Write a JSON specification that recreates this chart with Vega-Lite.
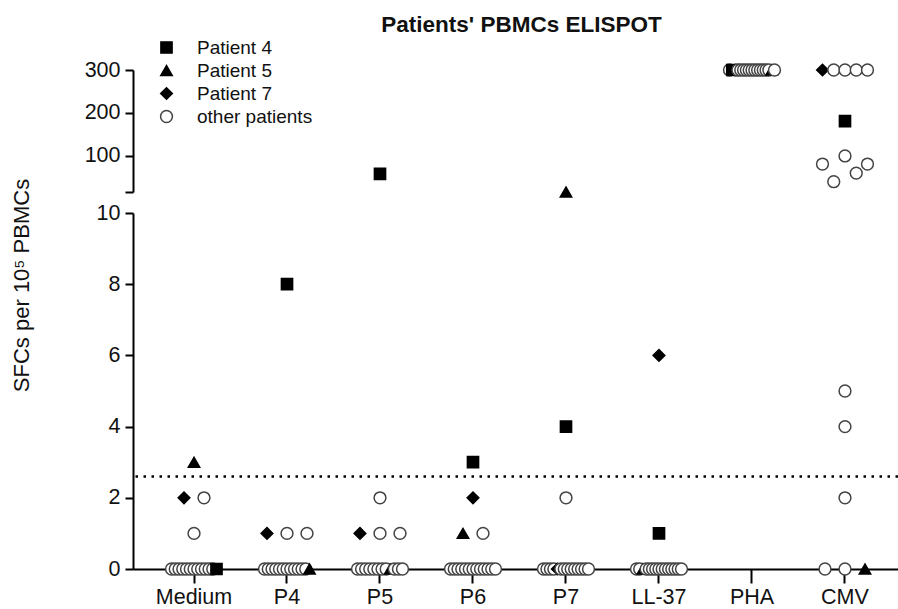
{
  "$schema": "https://vega.github.io/schema/vega-lite/v6.json",
  "autosize": "none",
  "width": 765,
  "height": 499,
  "padding": {"left": 133, "top": 70, "right": 0, "bottom": 40},
  "background": "white",
  "config": {
    "font": "Liberation Sans",
    "view": {"stroke": null},
    "axis": {"domainColor": "black", "tickColor": "black", "labelColor": "#111111", "titleColor": "#111111", "grid": false, "domainWidth": 2, "tickWidth": 2}
  },
  "title": {"text": "Patients' PBMCs ELISPOT", "fontSize": 22.5, "fontWeight": "bold", "color": "#111111", "frame": "group", "anchor": "middle", "dx": 6, "offset": 2},
  "data": {"values": [
    {"stimulus": "Medium", "patient": "other patients", "sfc": 0},
    {"stimulus": "Medium", "patient": "other patients", "sfc": 0},
    {"stimulus": "Medium", "patient": "other patients", "sfc": 0},
    {"stimulus": "Medium", "patient": "other patients", "sfc": 0},
    {"stimulus": "Medium", "patient": "other patients", "sfc": 0},
    {"stimulus": "Medium", "patient": "other patients", "sfc": 0},
    {"stimulus": "Medium", "patient": "other patients", "sfc": 0},
    {"stimulus": "Medium", "patient": "other patients", "sfc": 0},
    {"stimulus": "Medium", "patient": "other patients", "sfc": 0},
    {"stimulus": "Medium", "patient": "other patients", "sfc": 0},
    {"stimulus": "Medium", "patient": "other patients", "sfc": 0},
    {"stimulus": "Medium", "patient": "other patients", "sfc": 0},
    {"stimulus": "Medium", "patient": "Patient 4", "sfc": 0},
    {"stimulus": "Medium", "patient": "Patient 7", "sfc": 2},
    {"stimulus": "Medium", "patient": "other patients", "sfc": 2},
    {"stimulus": "Medium", "patient": "other patients", "sfc": 1},
    {"stimulus": "Medium", "patient": "Patient 5", "sfc": 3},

    {"stimulus": "P4", "patient": "other patients", "sfc": 0},
    {"stimulus": "P4", "patient": "other patients", "sfc": 0},
    {"stimulus": "P4", "patient": "other patients", "sfc": 0},
    {"stimulus": "P4", "patient": "other patients", "sfc": 0},
    {"stimulus": "P4", "patient": "other patients", "sfc": 0},
    {"stimulus": "P4", "patient": "other patients", "sfc": 0},
    {"stimulus": "P4", "patient": "other patients", "sfc": 0},
    {"stimulus": "P4", "patient": "other patients", "sfc": 0},
    {"stimulus": "P4", "patient": "other patients", "sfc": 0},
    {"stimulus": "P4", "patient": "other patients", "sfc": 0},
    {"stimulus": "P4", "patient": "other patients", "sfc": 0},
    {"stimulus": "P4", "patient": "other patients", "sfc": 0},
    {"stimulus": "P4", "patient": "Patient 5", "sfc": 0},
    {"stimulus": "P4", "patient": "Patient 7", "sfc": 1},
    {"stimulus": "P4", "patient": "other patients", "sfc": 1},
    {"stimulus": "P4", "patient": "other patients", "sfc": 1},
    {"stimulus": "P4", "patient": "Patient 4", "sfc": 8},

    {"stimulus": "P5", "patient": "other patients", "sfc": 0},
    {"stimulus": "P5", "patient": "other patients", "sfc": 0},
    {"stimulus": "P5", "patient": "other patients", "sfc": 0},
    {"stimulus": "P5", "patient": "other patients", "sfc": 0},
    {"stimulus": "P5", "patient": "other patients", "sfc": 0},
    {"stimulus": "P5", "patient": "other patients", "sfc": 0},
    {"stimulus": "P5", "patient": "other patients", "sfc": 0},
    {"stimulus": "P5", "patient": "other patients", "sfc": 0},
    {"stimulus": "P5", "patient": "Patient 5", "sfc": 0},
    {"stimulus": "P5", "patient": "other patients", "sfc": 0},
    {"stimulus": "P5", "patient": "other patients", "sfc": 0},
    {"stimulus": "P5", "patient": "other patients", "sfc": 0},
    {"stimulus": "P5", "patient": "Patient 7", "sfc": 1},
    {"stimulus": "P5", "patient": "other patients", "sfc": 1},
    {"stimulus": "P5", "patient": "other patients", "sfc": 1},
    {"stimulus": "P5", "patient": "other patients", "sfc": 2},
    {"stimulus": "P5", "patient": "Patient 4", "sfc": 58},

    {"stimulus": "P6", "patient": "other patients", "sfc": 0},
    {"stimulus": "P6", "patient": "other patients", "sfc": 0},
    {"stimulus": "P6", "patient": "other patients", "sfc": 0},
    {"stimulus": "P6", "patient": "other patients", "sfc": 0},
    {"stimulus": "P6", "patient": "other patients", "sfc": 0},
    {"stimulus": "P6", "patient": "other patients", "sfc": 0},
    {"stimulus": "P6", "patient": "other patients", "sfc": 0},
    {"stimulus": "P6", "patient": "other patients", "sfc": 0},
    {"stimulus": "P6", "patient": "other patients", "sfc": 0},
    {"stimulus": "P6", "patient": "other patients", "sfc": 0},
    {"stimulus": "P6", "patient": "other patients", "sfc": 0},
    {"stimulus": "P6", "patient": "other patients", "sfc": 0},
    {"stimulus": "P6", "patient": "other patients", "sfc": 0},
    {"stimulus": "P6", "patient": "Patient 5", "sfc": 1},
    {"stimulus": "P6", "patient": "other patients", "sfc": 1},
    {"stimulus": "P6", "patient": "Patient 7", "sfc": 2},
    {"stimulus": "P6", "patient": "Patient 4", "sfc": 3},

    {"stimulus": "P7", "patient": "other patients", "sfc": 0},
    {"stimulus": "P7", "patient": "other patients", "sfc": 0},
    {"stimulus": "P7", "patient": "other patients", "sfc": 0},
    {"stimulus": "P7", "patient": "other patients", "sfc": 0},
    {"stimulus": "P7", "patient": "Patient 7", "sfc": 0},
    {"stimulus": "P7", "patient": "other patients", "sfc": 0},
    {"stimulus": "P7", "patient": "other patients", "sfc": 0},
    {"stimulus": "P7", "patient": "other patients", "sfc": 0},
    {"stimulus": "P7", "patient": "other patients", "sfc": 0},
    {"stimulus": "P7", "patient": "other patients", "sfc": 0},
    {"stimulus": "P7", "patient": "other patients", "sfc": 0},
    {"stimulus": "P7", "patient": "other patients", "sfc": 0},
    {"stimulus": "P7", "patient": "other patients", "sfc": 0},
    {"stimulus": "P7", "patient": "other patients", "sfc": 0},
    {"stimulus": "P7", "patient": "other patients", "sfc": 2},
    {"stimulus": "P7", "patient": "Patient 4", "sfc": 4},
    {"stimulus": "P7", "patient": "Patient 5", "sfc": 16},

    {"stimulus": "LL-37", "patient": "other patients", "sfc": 0},
    {"stimulus": "LL-37", "patient": "other patients", "sfc": 0},
    {"stimulus": "LL-37", "patient": "Patient 5", "sfc": 0},
    {"stimulus": "LL-37", "patient": "other patients", "sfc": 0},
    {"stimulus": "LL-37", "patient": "other patients", "sfc": 0},
    {"stimulus": "LL-37", "patient": "other patients", "sfc": 0},
    {"stimulus": "LL-37", "patient": "other patients", "sfc": 0},
    {"stimulus": "LL-37", "patient": "other patients", "sfc": 0},
    {"stimulus": "LL-37", "patient": "other patients", "sfc": 0},
    {"stimulus": "LL-37", "patient": "other patients", "sfc": 0},
    {"stimulus": "LL-37", "patient": "other patients", "sfc": 0},
    {"stimulus": "LL-37", "patient": "other patients", "sfc": 0},
    {"stimulus": "LL-37", "patient": "other patients", "sfc": 0},
    {"stimulus": "LL-37", "patient": "other patients", "sfc": 0},
    {"stimulus": "LL-37", "patient": "other patients", "sfc": 0},
    {"stimulus": "LL-37", "patient": "Patient 4", "sfc": 1},
    {"stimulus": "LL-37", "patient": "Patient 7", "sfc": 6},

    {"stimulus": "PHA", "patient": "other patients", "sfc": 300},
    {"stimulus": "PHA", "patient": "Patient 4", "sfc": 300},
    {"stimulus": "PHA", "patient": "Patient 7", "sfc": 300},
    {"stimulus": "PHA", "patient": "other patients", "sfc": 300},
    {"stimulus": "PHA", "patient": "other patients", "sfc": 300},
    {"stimulus": "PHA", "patient": "other patients", "sfc": 300},
    {"stimulus": "PHA", "patient": "other patients", "sfc": 300},
    {"stimulus": "PHA", "patient": "other patients", "sfc": 300},
    {"stimulus": "PHA", "patient": "other patients", "sfc": 300},
    {"stimulus": "PHA", "patient": "other patients", "sfc": 300},
    {"stimulus": "PHA", "patient": "other patients", "sfc": 300},
    {"stimulus": "PHA", "patient": "other patients", "sfc": 300},
    {"stimulus": "PHA", "patient": "other patients", "sfc": 300},
    {"stimulus": "PHA", "patient": "other patients", "sfc": 300},
    {"stimulus": "PHA", "patient": "other patients", "sfc": 300},
    {"stimulus": "PHA", "patient": "Patient 5", "sfc": 300},
    {"stimulus": "PHA", "patient": "other patients", "sfc": 300},

    {"stimulus": "CMV", "patient": "other patients", "sfc": 0},
    {"stimulus": "CMV", "patient": "other patients", "sfc": 0},
    {"stimulus": "CMV", "patient": "Patient 5", "sfc": 0},
    {"stimulus": "CMV", "patient": "other patients", "sfc": 2},
    {"stimulus": "CMV", "patient": "other patients", "sfc": 4},
    {"stimulus": "CMV", "patient": "other patients", "sfc": 5},
    {"stimulus": "CMV", "patient": "other patients", "sfc": 81},
    {"stimulus": "CMV", "patient": "other patients", "sfc": 40},
    {"stimulus": "CMV", "patient": "other patients", "sfc": 100},
    {"stimulus": "CMV", "patient": "other patients", "sfc": 60},
    {"stimulus": "CMV", "patient": "other patients", "sfc": 81},
    {"stimulus": "CMV", "patient": "Patient 4", "sfc": 181},
    {"stimulus": "CMV", "patient": "Patient 7", "sfc": 300},
    {"stimulus": "CMV", "patient": "other patients", "sfc": 300},
    {"stimulus": "CMV", "patient": "other patients", "sfc": 300},
    {"stimulus": "CMV", "patient": "other patients", "sfc": 300},
    {"stimulus": "CMV", "patient": "other patients", "sfc": 300}
  ]},
  "layer": [
    {
      "transform": [
        {"filter": "datum.sfc <= 10"},
        {"window": [{"op": "row_number", "as": "rank"}], "groupby": ["stimulus", "sfc"]},
        {"joinaggregate": [{"op": "count", "as": "n"}], "groupby": ["stimulus", "sfc"]},
        {"calculate": "(datum.rank - (datum.n + 1) / 2) * min(20, 45 / max(datum.n - 1, 1))", "as": "offset"}
      ],
      "layer": [
        {
          "mark": {"type": "point", "opacity": 1, "strokeWidth": 1.5},
          "encoding": {
            "x": {"field": "stimulus", "type": "nominal", "sort": null,
              "scale": {"type": "band", "domain": ["Medium", "P4", "P5", "P6", "P7", "LL-37", "PHA", "CMV"], "paddingInner": 0, "paddingOuter": 0.113, "align": 0.69},
              "axis": {"title": null, "labelAngle": 0, "labelFontSize": 21.5, "ticks": true, "bandPosition": 0.5, "tickSize": 14, "labelPadding": 3}},
            "xOffset": {"field": "offset", "type": "quantitative", "scale": {"domain": [-46.5, 46.5], "range": [0, 93]}},
            "y": {"field": "sfc", "type": "quantitative",
              "scale": {"domain": [0, 10], "range": [499, 143], "nice": false, "zero": false},
              "axis": {"orient": "left", "values": [0, 2, 4, 6, 8, 10], "title": "SFCs per 10⁵ PBMCs", "titleFontSize": 22, "titleFontWeight": "normal", "titleY": 215, "titleX": -100, "labelFontSize": 21.5, "tickSize": 8, "labelPadding": 5}},
            "shape": {"field": "patient", "type": "nominal",
              "scale": {"domain": ["Patient 4", "Patient 5", "Patient 7", "other patients"], "range": ["square", "triangle-up", "diamond", "circle"]},
              "legend": {"orient": "none", "legendX": 24, "legendY": -32, "title": null, "labelFontSize": 19, "labelColor": "#111111", "labelOffset": 21, "rowPadding": 3, "symbolStrokeWidth": 1.5, "padding": 0}},
            "fill": {"field": "patient", "type": "nominal",
              "scale": {"domain": ["Patient 4", "Patient 5", "Patient 7", "other patients"], "range": ["black", "black", "black", "white"]},
              "legend": {"orient": "none", "legendX": 24, "legendY": -32, "title": null, "labelFontSize": 19, "labelColor": "#111111", "labelOffset": 21, "rowPadding": 3, "symbolStrokeWidth": 1.5, "padding": 0}},
            "stroke": {"field": "patient", "type": "nominal",
              "scale": {"domain": ["Patient 4", "Patient 5", "Patient 7", "other patients"], "range": ["black", "black", "black", "#444444"]},
              "legend": {"orient": "none", "legendX": 24, "legendY": -32, "title": null, "labelFontSize": 19, "labelColor": "#111111", "labelOffset": 21, "rowPadding": 3, "symbolStrokeWidth": 1.5, "padding": 0}},
            "size": {"field": "patient", "type": "nominal",
              "scale": {"domain": ["Patient 4", "Patient 5", "Patient 7", "other patients"], "range": [125, 140, 160, 110]},
              "legend": {"orient": "none", "legendX": 24, "legendY": -32, "title": null, "labelFontSize": 19, "labelColor": "#111111", "labelOffset": 21, "rowPadding": 3, "symbolStrokeWidth": 1.5, "padding": 0}}
          }
        },
        {
          "data": {"values": [{}]},
          "mark": {"type": "rule", "strokeDash": [2.5, 5.5], "strokeWidth": 2.5, "color": "black"},
          "encoding": {"y": {"datum": 2.6}}
        }
      ]
    },
    {
      "transform": [
        {"filter": "datum.sfc > 10"},
        {"bin": {"step": 150, "extent": [0, 450]}, "field": "sfc", "as": "sfc_band"},
        {"window": [{"op": "row_number", "as": "rank"}], "groupby": ["stimulus", "sfc_band"]},
        {"joinaggregate": [{"op": "count", "as": "n"}], "groupby": ["stimulus", "sfc_band"]},
        {"calculate": "(datum.rank - (datum.n + 1) / 2) * min(20, 45 / max(datum.n - 1, 1))", "as": "offset"}
      ],
      "mark": {"type": "point", "opacity": 1, "strokeWidth": 1.5},
      "encoding": {
        "x": {"field": "stimulus", "type": "nominal", "sort": null,
          "scale": {"type": "band", "domain": ["Medium", "P4", "P5", "P6", "P7", "LL-37", "PHA", "CMV"], "paddingInner": 0, "paddingOuter": 0.113, "align": 0.69},
          "axis": {"title": null, "labelAngle": 0, "labelFontSize": 21.5, "ticks": true, "bandPosition": 0.5, "tickSize": 14, "labelPadding": 3}},
        "xOffset": {"field": "offset", "type": "quantitative", "scale": {"domain": [-46.5, 46.5], "range": [0, 93]}},
        "y": {"field": "sfc", "type": "quantitative",
          "scale": {"domain": [16, 300], "range": [122, 0], "nice": false, "zero": false},
          "axis": {"orient": "left", "values": [16, 100, 200, 300], "labelExpr": "datum.value < 50 ? '' : datum.label", "title": null, "labelFontSize": 21.5, "tickSize": 8, "labelPadding": 5}},
        "shape": {"field": "patient", "type": "nominal",
          "scale": {"domain": ["Patient 4", "Patient 5", "Patient 7", "other patients"], "range": ["square", "triangle-up", "diamond", "circle"]},
          "legend": {"orient": "none", "legendX": 24, "legendY": -32, "title": null, "labelFontSize": 19, "labelColor": "#111111", "labelOffset": 21, "rowPadding": 3, "symbolStrokeWidth": 1.5, "padding": 0}},
        "fill": {"field": "patient", "type": "nominal",
          "scale": {"domain": ["Patient 4", "Patient 5", "Patient 7", "other patients"], "range": ["black", "black", "black", "white"]},
          "legend": {"orient": "none", "legendX": 24, "legendY": -32, "title": null, "labelFontSize": 19, "labelColor": "#111111", "labelOffset": 21, "rowPadding": 3, "symbolStrokeWidth": 1.5, "padding": 0}},
        "stroke": {"field": "patient", "type": "nominal",
          "scale": {"domain": ["Patient 4", "Patient 5", "Patient 7", "other patients"], "range": ["black", "black", "black", "#444444"]},
          "legend": {"orient": "none", "legendX": 24, "legendY": -32, "title": null, "labelFontSize": 19, "labelColor": "#111111", "labelOffset": 21, "rowPadding": 3, "symbolStrokeWidth": 1.5, "padding": 0}},
        "size": {"field": "patient", "type": "nominal",
          "scale": {"domain": ["Patient 4", "Patient 5", "Patient 7", "other patients"], "range": [125, 140, 160, 110]},
          "legend": {"orient": "none", "legendX": 24, "legendY": -32, "title": null, "labelFontSize": 19, "labelColor": "#111111", "labelOffset": 21, "rowPadding": 3, "symbolStrokeWidth": 1.5, "padding": 0}}
      }
    }
  ],
  "resolve": {"scale": {"y": "independent"}, "axis": {"y": "independent"}}
}
